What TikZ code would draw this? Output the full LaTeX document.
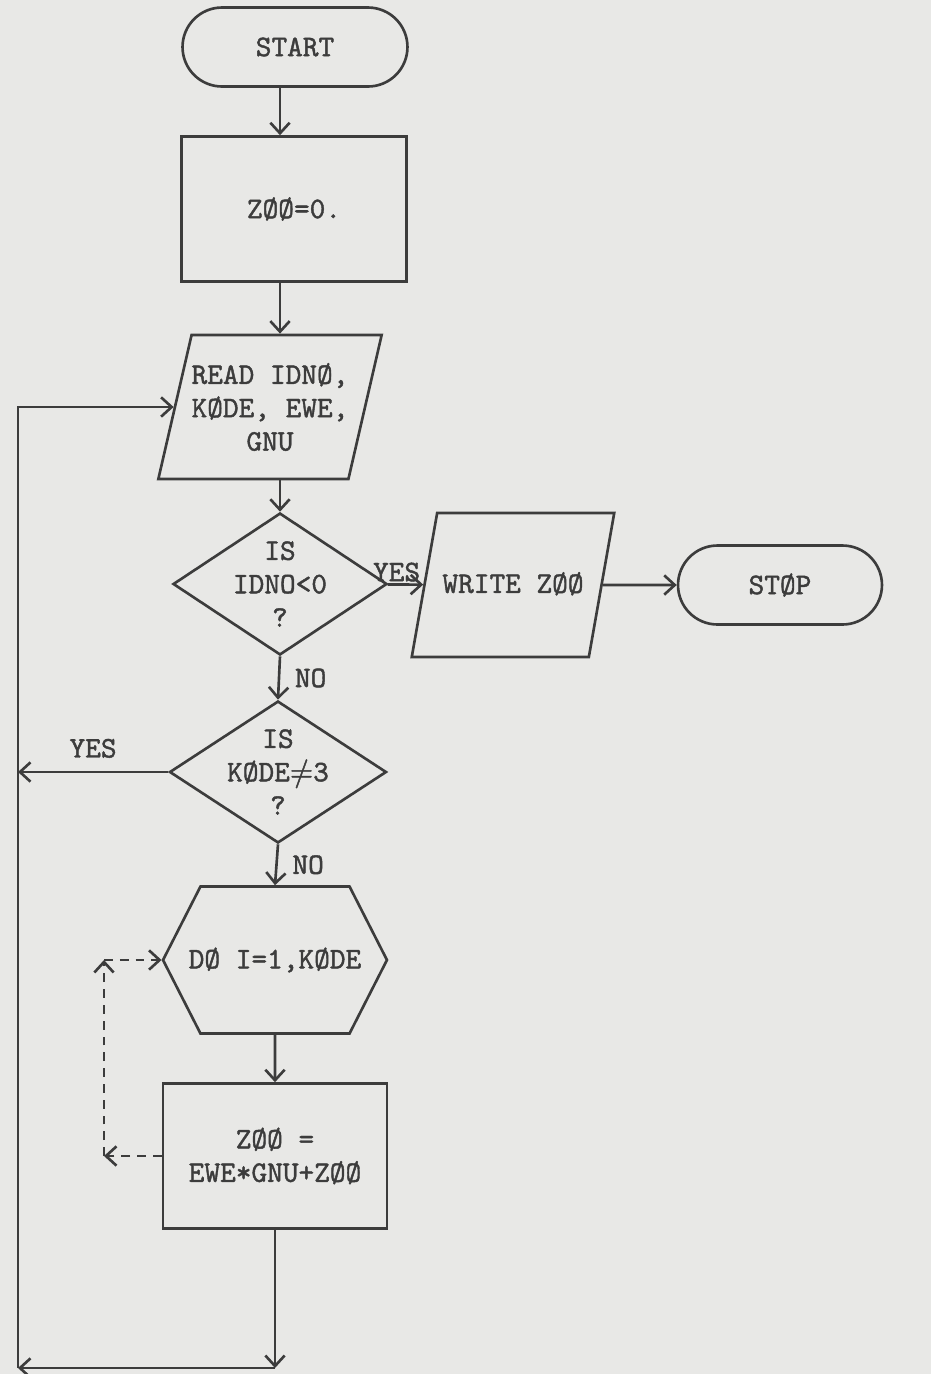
\documentclass[tikz,border=0pt]{standalone}
\usepackage{amsmath,amssymb}
\usepackage{fontspec}
\usepackage{tikz}
\usetikzlibrary{shapes.geometric,shapes.misc,shapes.symbols,arrows.meta,positioning,calc}

\newfontfamily\typer{lmmono10-regular.otf}[FakeBold=1.4]
\newfontfamily\symb{latinmodern-math.otf}[FakeBold=1.4]

\definecolor{ink}{HTML}{3C3C3C}
\definecolor{paper}{HTML}{E8E8E6}

\begin{document}
\begin{tikzpicture}[
    x=0.02cm, y=-0.02cm,
    every node/.style={font=\typer\fontsize{17}{19}\selectfont, text=ink},
    chart/.style={draw=ink, line width=1.5pt, inner sep=0pt, align=center},
    term/.style={chart, rounded rectangle, minimum height=1.58cm},
    box/.style={chart, rectangle, minimum width=4.5cm, minimum height=2.9cm},
    io/.style={chart, trapezium, trapezium stretches body},
    ask/.style={chart, diamond, aspect=1.5, inner ysep=-6pt, minimum height=2.84cm},
    hexbox/.style={chart, signal, signal to=west and east, signal pointer angle=126,
                   inner xsep=-7pt, minimum height=2.94cm},
    arrow/.style={-{Straight Barb[length=6pt,width=11pt]}, draw=ink, line width=1.5pt}
]
    \useasboundingbox (0,0) rectangle (931,1374);
    \fill[paper] (0,0) rectangle (931,1374);

    % Start
    \node[term, minimum width=4.5cm] (start) at (295,47) {START};

    % Clear the sum
    \node[box] (clear) at (294,209) {ZØØ=0.};

    % Read a card
    \node[io, trapezium left angle=77, trapezium right angle=103, inner xsep=0pt,
          inner ysep=16pt]
        (read) at (270,407) {READ IDNØ,\\KØDE, EWE,\\GNU};

    % End of data?
    \node[ask, minimum width=4.28cm] (last) at (280,584) {IS\\IDNO<0\\?};

    % Write result
    \node[io, trapezium left angle=80, trapezium right angle=100, inner xsep=3pt,
          text height=12pt, text depth=3pt, inner ysep=33.5pt]
        (write) at (513,585) {WRITE ZØØ};

    % Stop
    \node[term, minimum width=4.08cm] (stop) at (780,585) {STØP};

    % Skip this card?
    \node[ask, minimum width=4.34cm] (code) at (278,772) {IS\\KØDE{\symb ≠}3\\?};

    % Loop
    \node[hexbox, minimum width=4.48cm] (loop) at (275,960) {DØ I=1,KØDE};

    % Add up
    \node[box, minimum width=4.48cm] (sum) at (275,1156) {ZØØ =\\EWE*GNU+ZØØ};

    \coordinate (down) at (275,1368);
    \coordinate (back) at (18,1368);
    \coordinate (dl) at (104,1156);
    \coordinate (ul) at (104,960);

    \draw[arrow] (start.south -| last) -- (clear.north -| last);
    \draw[arrow] (clear.south -| last) -- (read.north -| last);
    \draw[arrow] (read.south -| last) -- (last);
    \draw[arrow] (last) -- node[above left, pos=1, inner sep=1pt] {YES} (write);
    \draw[arrow] (write) -- (stop);
    \draw[arrow] (last.south) -- node[right=5pt] {NO} (code.north);
    \draw[arrow] (code.west) -- node[above=4pt] {YES} (code.west -| back);
    \draw[arrow] (code.south) -- node[right=5pt] {NO} (loop.north);
    \draw[arrow] (loop) -- (sum);
    \draw[arrow] (sum) -- (down);
    \draw[arrow] (down) -- (back);
    \draw[arrow] (back) |- (read);

    \draw[arrow, dashed, dash pattern=on 5pt off 4pt] (sum.west) -- (dl);
    \draw[arrow, dashed, dash pattern=on 5pt off 4pt] (dl) -- (ul);
    \draw[arrow, dashed, dash pattern=on 5pt off 4pt] (ul) -- (loop.west);
\end{tikzpicture}
\end{document}
